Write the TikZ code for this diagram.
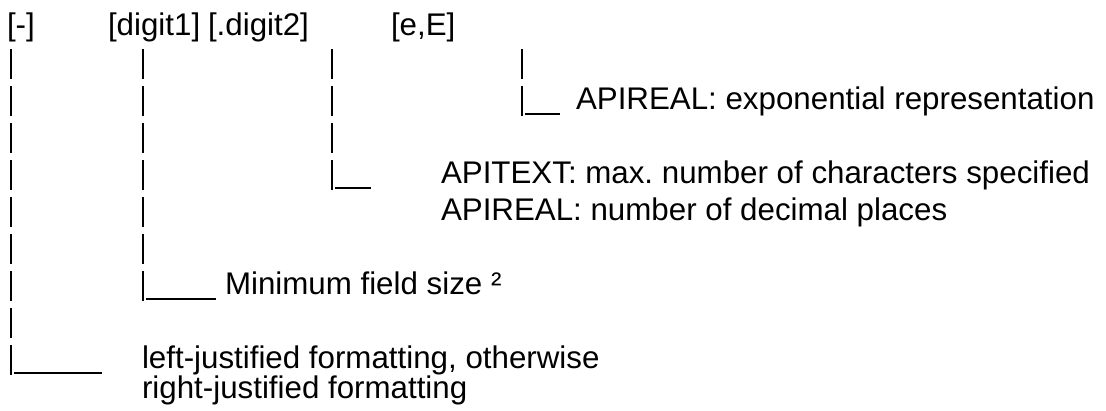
\documentclass[tikz,border=0pt]{standalone}
\usepackage{fontspec}
\setmainfont{Liberation Sans}
\frenchspacing
\begin{document}
\begin{tikzpicture}[x=1pt,y=-1pt,
  txt/.style={inner sep=0pt,outer sep=0pt,anchor=base west,font=\fontsize{31.3}{37}\selectfont},
  bars/.style={line width=2.4pt,dash pattern=on 29.1pt off 7.9pt},
  under/.style={line width=2.2pt}]
\useasboundingbox (0,0) rectangle (1106,410);
% header
\node[txt] (hminus) at (7,35) {[-]};
\node[txt] (hd1) at (108,35) {[digit1]};
\node[txt] (hd2) at (208,35) {[.digit2]};
\node[txt] (he) at (391,35) {[e,E]};
% labels
\node[txt] (lexp) at (576,109) {APIREAL: exponential representation};
\node[txt] (ltext) at (441,183) {APITEXT: max. number of characters specified};
\node[txt] (lreal) at (441,220) {APIREAL: number of decimal places};
\node[txt] (lmin) at (225,294) {Minimum field size ²};
\node[txt] (lleft) at (142,368) {left-justified formatting, otherwise};
\node[txt] (lright) at (142,398) {right-justified formatting};
% connector coordinates
\coordinate (c1top) at (11,49.4);  \coordinate (c1bot) at (11,374.5);
\coordinate (c2top) at (143,49.4); \coordinate (c2bot) at (143,300.5);
\coordinate (c3top) at (332,49.4); \coordinate (c3bot) at (332,189.5);
\coordinate (c4top) at (522,49.4); \coordinate (c4bot) at (522,115.5);
\coordinate (u1a) at (14,373.3);  \coordinate (u1b) at (102,373.3);
\coordinate (u2a) at (146,299.3); \coordinate (u2b) at (216,299.3);
\coordinate (u3a) at (335,188.3); \coordinate (u3b) at (371,188.3);
\coordinate (u4a) at (525,114.3); \coordinate (u4b) at (560,114.3);
% vertical bars
\draw[bars] (c1top) -- (c1bot);
\draw[bars] (c2top) -- (c2bot);
\draw[bars] (c3top) -- (c3bot);
\draw[bars] (c4top) -- (c4bot);
% underscores
\draw[under] (u1a) -- (u1b);
\draw[under] (u2a) -- (u2b);
\draw[under] (u3a) -- (u3b);
\draw[under] (u4a) -- (u4b);
\end{tikzpicture}
\end{document}
